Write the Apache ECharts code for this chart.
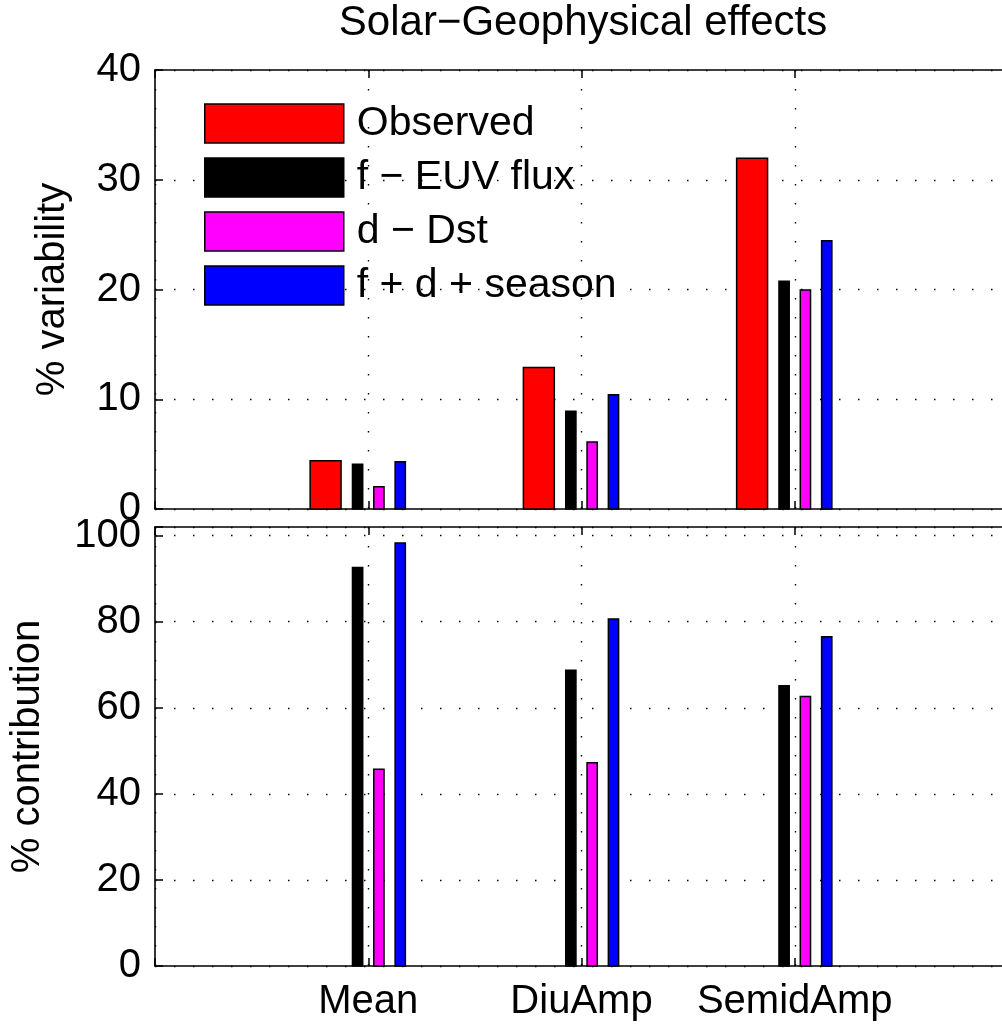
<!DOCTYPE html>
<html>
<head>
<meta charset="utf-8">
<script src="https://cdn.jsdelivr.net/npm/echarts@6/dist/echarts.min.js"></script>
<style>
html,body{margin:0;padding:0;background:#fff;}
#chart{width:1002px;height:1029px;}
</style>
</head>
<body>
<div id="chart"></div>
<script>
// ---- data ----
const categories = ['Mean', 'DiuAmp', 'SemidAmp'];
const seriesNames = ['Observed', 'f \u2212 EUV flux', 'd \u2212 Dst', 'f + d + season'];
// top panel: % variability
const observedVar = [4.4, 12.9, 31.95];
const euvVar = [4.07, 8.9, 20.75];
const dstVar = [2.03, 6.1, 19.95];
const allVar = [4.31, 10.4, 24.45];
// bottom panel: % contribution
const euvContrib = [92.6, 68.7, 65.1];
const dstContrib = [45.7, 47.2, 62.6];
const allContrib = [98.3, 80.6, 76.5];
const varTicks = [0, 10, 20, 30, 40];
const contribTicks = [0, 20, 40, 60, 80, 100];

// ---- styling ----
const FONT = 'Liberation Sans';
const FS = 40;
const colors = ['#ff0000', '#000000', '#ff00ff', '#0000ff'];
const offsets = [-0.2, -0.05, 0.05, 0.15];
const widths = [0.145, 0.048, 0.048, 0.048];
const dotted = { color: '#000', width: 1.4, type: [1.5, 17.5] };
const axisLine = { show: true, lineStyle: { color: '#000', width: 1.6 } };

function makeBar(seriesIdx, values, panel) {
  const off = offsets[seriesIdx], w = widths[seriesIdx], color = colors[seriesIdx];
  return {
    type: 'custom',
    name: seriesNames[seriesIdx],
    xAxisIndex: panel * 2,
    yAxisIndex: panel,
    itemStyle: { color: color, borderColor: '#000', borderWidth: 1.5 },
    data: values.map((v, i) => [i + 1 + off, v]),
    encode: { x: 0, y: 1 },
    renderItem: function (params, api) {
      const x = api.value(0), y = api.value(1);
      const p0 = api.coord([x - w / 2, y]);
      const p1 = api.coord([x + w / 2, 0]);
      return {
        type: 'rect',
        shape: { x: p0[0], y: p0[1], width: p1[0] - p0[0], height: p1[1] - p0[1] },
        style: { fill: color, stroke: '#000', lineWidth: 1.5 }
      };
    }
  };
}

function xAxisDef(grid, pos, withLabels, withSplit) {
  return {
    type: 'value', gridIndex: grid, position: pos, min: 0, max: 4, interval: 1,
    axisLine: axisLine,
    axisTick: { show: true, inside: true, length: 8, lineStyle: { color: '#000', width: 1.5 } },
    axisLabel: {
      show: withLabels, margin: 16, fontFamily: FONT, fontSize: FS, color: '#000',
      formatter: function (v) { return categories[v - 1] !== undefined ? categories[v - 1] : ''; }
    },
    splitLine: { show: withSplit, lineStyle: dotted }
  };
}

const chart = echarts.init(document.getElementById('chart'));
chart.setOption({
  backgroundColor: '#fff',
  animation: false,
  title: {
    text: 'Solar\u2212Geophysical effects',
    left: 583, top: 2, textAlign: 'center', padding: 0,
    textStyle: { fontFamily: FONT, fontSize: 42, fontWeight: 'normal', color: '#000' }
  },
  legend: {
    data: seriesNames,
    orient: 'vertical', left: 204, top: 103, padding: 0,
    itemWidth: 139, itemHeight: 39, itemGap: 13,
    icon: 'rect', selectedMode: false,
    itemStyle: { borderColor: '#000', borderWidth: 1.5 },
    textStyle: { fontFamily: FONT, fontSize: 41, color: '#000', padding: [0, 0, 0, 8] }
  },
  grid: [
    { left: 155, top: 70, width: 853, height: 439, outerBoundsMode: 'none', containLabel: false },
    { left: 155, top: 527, width: 853, height: 439, outerBoundsMode: 'none', containLabel: false }
  ],
  xAxis: [
    xAxisDef(0, 'bottom', false, true),
    xAxisDef(0, 'top', false, false),
    xAxisDef(1, 'bottom', true, true),
    xAxisDef(1, 'top', false, false)
  ],
  yAxis: [
    {
      type: 'value', gridIndex: 0, min: varTicks[0], max: varTicks[varTicks.length - 1], interval: 10,
      name: '% variability', nameLocation: 'middle', nameGap: 82,
      nameTextStyle: { fontFamily: FONT, fontSize: FS, color: '#000' },
      axisLine: axisLine,
      axisTick: { show: true, inside: true, length: 8, lineStyle: { color: '#000', width: 1.5 } },
      axisLabel: { margin: 14, fontFamily: FONT, fontSize: FS, color: '#000' },
      splitLine: { show: true, lineStyle: dotted }
    },
    {
      type: 'value', gridIndex: 1, min: 0, max: 102, interval: 20,
      name: '% contribution', nameLocation: 'middle', nameGap: 107,
      nameTextStyle: { fontFamily: FONT, fontSize: FS, color: '#000' },
      axisLine: axisLine,
      axisTick: { show: true, inside: true, length: 8, lineStyle: { color: '#000', width: 1.5 } },
      axisLabel: {
        margin: 14, fontFamily: FONT, fontSize: FS, color: '#000',
        formatter: function (v) { return contribTicks.indexOf(v) >= 0 ? String(v) : ''; }
      },
      splitLine: { show: true, lineStyle: dotted }
    }
  ],
  series: [
    makeBar(0, observedVar, 0),
    makeBar(1, euvVar, 0),
    makeBar(2, dstVar, 0),
    makeBar(3, allVar, 0),
    makeBar(1, euvContrib, 1),
    makeBar(2, dstContrib, 1),
    makeBar(3, allContrib, 1)
  ]
});
</script>
</body>
</html>
